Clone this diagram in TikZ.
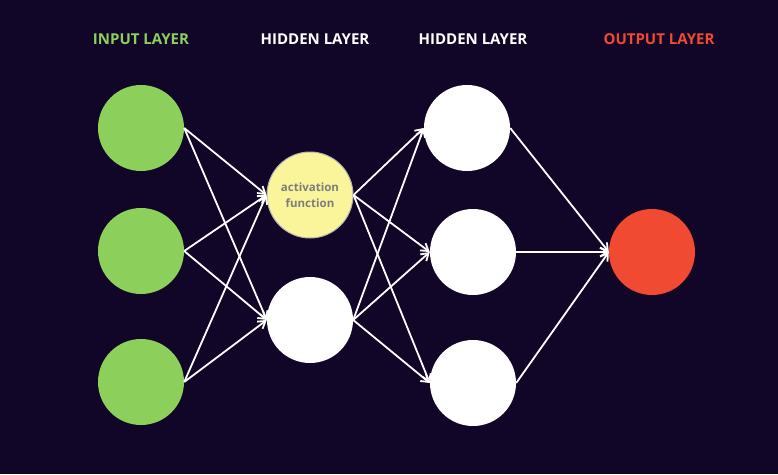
\documentclass[tikz,border=0pt]{standalone}
\usepackage{fontspec}
\setmainfont{Open Sans}
\usetikzlibrary{arrows.meta}
\definecolor{bgnavy}{RGB}{18,6,40}
\definecolor{ingreen}{RGB}{140,207,90}
\definecolor{actyellow}{RGB}{250,245,155}
\definecolor{outred}{RGB}{240,74,50}
\definecolor{acttext}{RGB}{125,125,125}
\tikzset{
	unit/.style={
		circle,
		inner sep=0pt,
		minimum size=86pt
	}
}

\begin{document}
\begin{tikzpicture}[x=1pt, y=-1pt]
	\tikzset{title/.style={font=\bfseries\fontsize{15}{17}\selectfont}}
	\tikzset{edge/.style={-{Straight Barb[length=7pt, width=9pt]}, white, line width=1.8pt}}
	
	\fill[bgnavy] (0,0) rectangle (778,474);
	\useasboundingbox (0,0) rectangle (778,474);
	
	\node(t_in) at (141,39) [title, ingreen] {INPUT LAYER};
	\node(t_h1) at (315,39) [title, white] {HIDDEN LAYER};
	\node(t_h2) at (473,39) [title, white] {HIDDEN LAYER};
	\node(t_out) at (659,39) [title, outred] {OUTPUT LAYER};
	
	\node(x1) at (141,128) [unit, fill=ingreen] {};
	\node(x2) at (141,251) [unit, fill=ingreen] {};
	\node(x3) at (141,382) [unit, fill=ingreen] {};
	
	\node(h1) at (310,195) [unit, fill=actyellow, draw=gray!60, line width=1pt, text=acttext, font=\bfseries\fontsize{11.5}{16}\selectfont, align=center] {activation\\function};
	\node(h2) at (310,320) [unit, fill=white] {};
	
	\node(g1) at (467,128) [unit, fill=white] {};
	\node(g2) at (473,252) [unit, fill=white] {};
	\node(g3) at (473,383) [unit, fill=white] {};
	
	\node(y_hat) at (652,252) [unit, fill=outred] {};
	
	\draw[edge](x1.east) -- (h1.west);
	\draw[edge](x1.east) -- (h2.west);
	\draw[edge](x2.east) -- (h1.west);
	\draw[edge](x2.east) -- (h2.west);
	\draw[edge](x3.east) -- (h1.west);
	\draw[edge](x3.east) -- (h2.west);
	
	\draw[edge](h1.east) -- (g1.west);
	\draw[edge](h1.east) -- (g2.west);
	\draw[edge](h1.east) -- (g3.west);
	\draw[edge](h2.east) -- (g1.west);
	\draw[edge](h2.east) -- (g2.west);
	\draw[edge](h2.east) -- (g3.west);
	
	\draw[edge](g1.east) -- (y_hat.west);
	\draw[edge](g2.east) -- (y_hat.west);
	\draw[edge](g3.east) -- (y_hat.west);
	
\end{tikzpicture}
\end{document}
